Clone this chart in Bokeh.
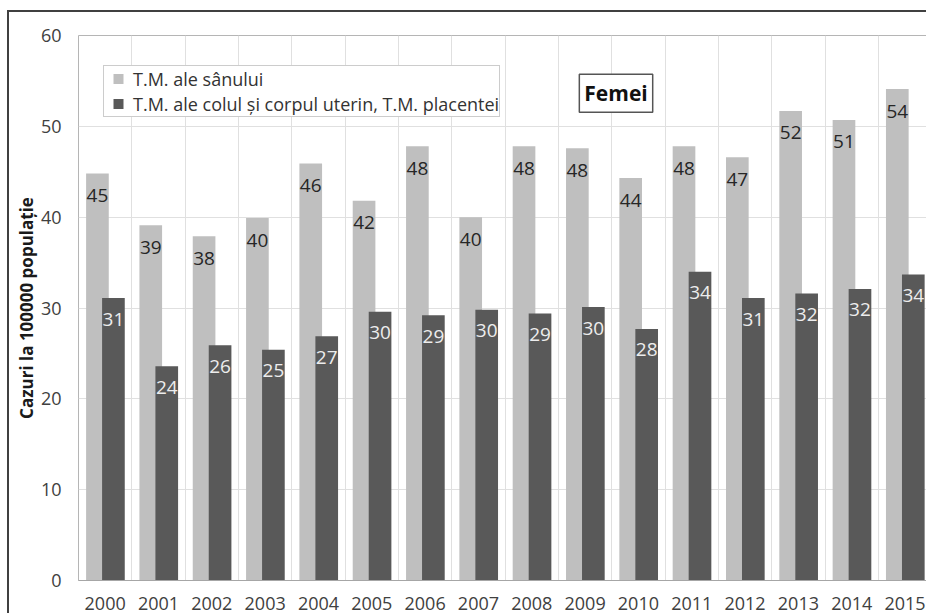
import math
from bokeh.plotting import figure
from bokeh.models import (Range1d, FixedTicker, Legend, LegendItem, Label,
                          ColumnDataSource)
from bokeh.transform import dodge
from bokeh.core.properties import value
from bokeh.embed import file_html
from bokeh.resources import INLINE

years = ["2000", "2001", "2002", "2003", "2004", "2005", "2006", "2007",
         "2008", "2009", "2010", "2011", "2012", "2013", "2014", "2015"]
breast = [44.8, 39.1, 37.9, 39.9, 45.9, 41.8, 47.8, 40.0,
          47.8, 47.6, 44.3, 47.8, 46.6, 51.7, 50.7, 54.1]
uterine = [31.1, 23.6, 25.9, 25.4, 26.9, 29.6, 29.2, 29.8,
           29.4, 30.1, 27.7, 34.0, 31.1, 31.6, 32.1, 33.7]
series_names = ["T.M. ale sânului",
                "T.M. ale colul și corpul uterin, T.M. placentei"]
y_ticks = [0, 10, 20, 30, 40, 50, 60]
y_title = "Cazuri la 100000 populație"
box_title = "Femei"

FONT = "Open Sans"
LIGHT = "#bfbfbf"
DARK = "#595959"

idx = list(range(len(years)))
src = ColumnDataSource(dict(
    x=idx, breast=breast, uterine=uterine,
    bl=[f"{v:.0f}" for v in breast], ul=[f"{v:.0f}" for v in uterine]))

p = figure(width=919, height=603, output_backend="svg", toolbar_location=None,
           x_range=Range1d(-0.5, 15.44), y_range=Range1d(0, 60),
           min_border_left=69, min_border_right=0, min_border_top=23,
           min_border_bottom=35)
# outer chart frame (only its left and top sides are inside the window)
p.styles = {"margin-left": "7px", "margin-top": "10px",
            "border-left": "2px solid #404040", "border-top": "2px solid #404040"}

p.outline_line_color = "#b5b5b5"
p.outline_line_width = 1

# bars
p.vbar(x=dodge("x", -0.145, range=p.x_range), top="breast", width=0.425,
       source=src, fill_color=LIGHT, line_color=None)
p.vbar(x=dodge("x", 0.155, range=p.x_range), top="uterine", width=0.425,
       source=src, fill_color=DARK, line_color=None)

# labels
p.text(x=dodge("x", -0.145, range=p.x_range), y="breast", text="bl", source=src,
       text_font=value(FONT), text_font_size="19px", text_color="#262626",
       text_align="center", text_baseline="alphabetic", y_offset=22)
p.text(x=dodge("x", 0.155, range=p.x_range), y="uterine", text="ul", source=src,
       text_font=value(FONT), text_font_size="19px", text_color="#ededed",
       text_align="center", text_baseline="alphabetic", y_offset=21)

# axes
p.xaxis.ticker = FixedTicker(ticks=idx)
p.xaxis.major_label_overrides = {i: y for i, y in zip(idx, years)}
p.xaxis.major_label_text_font = FONT
p.xaxis.major_label_text_font_size = "18px"
p.xaxis.major_label_text_color = "#404040"
p.xaxis.major_tick_line_color = None
p.xaxis.minor_tick_line_color = None
p.xaxis.axis_line_color = "#a6a6a6"
p.xaxis.major_label_standoff = 10

p.yaxis.ticker = FixedTicker(ticks=y_ticks)
p.yaxis.major_label_text_font = FONT
p.yaxis.major_label_text_font_size = "18px"
p.yaxis.major_label_text_color = "#404040"
p.yaxis.major_tick_line_color = None
p.yaxis.minor_tick_line_color = None
p.yaxis.axis_line_color = None
p.yaxis.major_label_standoff = 11
p.yaxis.axis_label = y_title
p.yaxis.axis_label_text_font = FONT
p.yaxis.axis_label_text_font_style = "bold"
p.yaxis.axis_label_text_font_size = "17px"
p.yaxis.axis_label_text_color = "#1a1a1a"
p.yaxis.axis_label_standoff = 0

# grids
p.xgrid.ticker = FixedTicker(ticks=[i + 0.5 for i in idx])
p.xgrid.grid_line_color = "#e0e0e0"
p.ygrid.ticker = FixedTicker(ticks=y_ticks)
p.ygrid.grid_line_color = "#e0e0e0"

# legend with square markers (renderers hold no visible point)
lg1 = p.scatter([math.nan], [math.nan], marker="square", fill_color=LIGHT,
                line_color=None)
lg2 = p.scatter([math.nan], [math.nan], marker="square", fill_color=DARK,
                line_color=None)
legend = Legend(items=[LegendItem(label=series_names[0], renderers=[lg1]),
                       LegendItem(label=series_names[1], renderers=[lg2])],
                location=(25, 463), orientation="vertical",
                label_text_font=FONT, label_text_font_size="18px",
                label_text_color="#333333",
                glyph_width=28, glyph_height=25, label_height=25,
                padding=0, spacing=0, label_standoff=1, margin=0,
                border_line_color="#9a9a9a", border_line_width=1,
                background_fill_color="white", background_fill_alpha=1)
p.add_layout(legend, "center")

# title box
p.add_layout(Label(x=9.58, y=53.63, text=box_title, text_font=FONT,
                   text_font_size="21px", text_font_style="bold",
                   text_color="#111111", text_align="center",
                   text_baseline="middle", border_line_color="#555555",
                   border_line_width=1.5, background_fill_color="white",
                   padding=(5, 5)))

open("out.html", "w").write(file_html(p, INLINE))
